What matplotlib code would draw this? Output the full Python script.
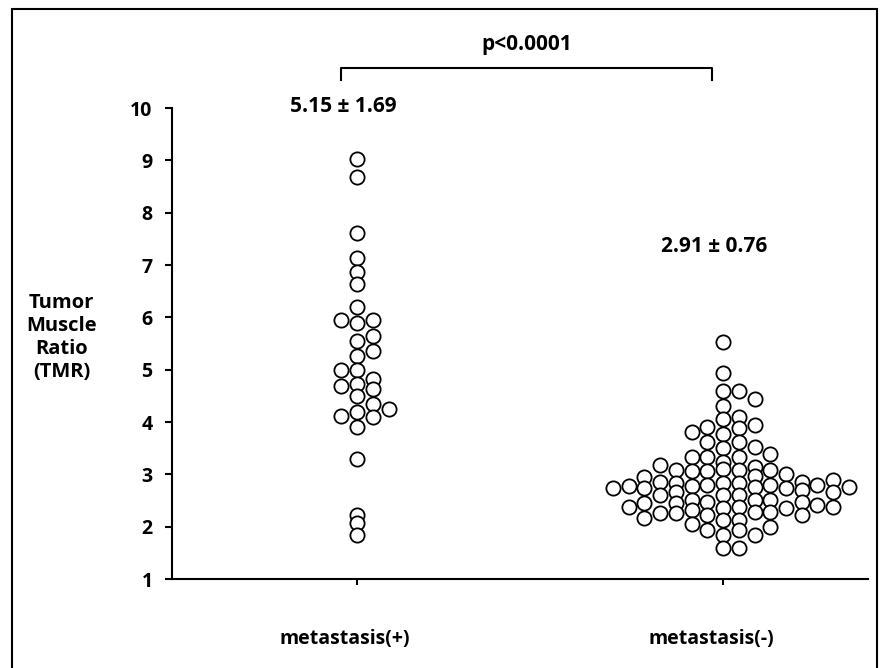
import matplotlib
matplotlib.use("Agg")
import matplotlib.pyplot as plt
from matplotlib.patches import Rectangle
from matplotlib.transforms import ScaledTranslation

plt.rcParams['font.family'] = ['Open Sans', 'DejaVu Sans']
plt.rcParams['font.weight'] = 'bold'

groups = ["metastasis(+)", "metastasis(-)"]
summary = ["5.15 \u00b1 1.69", "2.91 \u00b1 0.76"]
p_text = "p<0.0001"

# metastasis(+): TMR value and swarm column
pos_tmr = [9.02, 8.69, 7.62, 7.13, 6.86, 6.64, 6.20, 5.94, 5.89, 5.94,
           5.65, 5.55, 5.36, 5.27, 5.00, 5.00, 4.82, 4.69, 4.72, 4.64,
           4.50, 4.34, 4.25, 4.20, 4.11, 4.09, 3.91, 3.29, 2.23, 2.08, 1.84]
pos_col = [0, 0, 0, 0, 0, 0, 0, -1, 0, 1,
           1, 0, 1, 0, -1, 0, 1, -1, 0, 1,
           0, 1, 2, 0, -1, 1, 0, 0, 0, 0, 0]

# metastasis(-): values per swarm column
neg_by_col = {
    -7: [2.74],
    -6: [2.78, 2.38],
    -5: [2.94, 2.73, 2.45, 2.16],
    -4: [3.18, 2.86, 2.60, 2.27],
    -3: [3.08, 2.83, 2.67, 2.45, 2.27],
    -2: [3.80, 3.34, 3.06, 2.78, 2.51, 2.32, 2.05],
    -1: [3.91, 3.62, 3.34, 3.06, 2.80, 2.48, 2.22, 1.94],
    0: [5.52, 4.93, 4.59, 4.31, 4.05, 3.78, 3.51, 3.24, 3.11, 2.83,
        2.60, 2.35, 2.13, 1.84, 1.59],
    1: [4.59, 4.10, 3.88, 3.62, 3.34, 3.08, 2.83, 2.60, 2.38, 2.13, 1.94, 1.59],
    2: [4.44, 3.94, 3.53, 3.15, 2.96, 2.76, 2.51, 2.29, 1.84],
    3: [3.38, 3.08, 2.80, 2.51, 2.29, 1.99],
    4: [3.00, 2.73, 2.35],
    5: [2.86, 2.70, 2.48, 2.22],
    6: [2.80, 2.41],
    7: [2.89, 2.67, 2.38],
    8: [2.76],
}

step = 0.043  # horizontal spacing of swarm columns

fig = plt.figure(figsize=(8.83, 6.68), dpi=100)
ax = fig.add_axes([0.1948, 0.1332, 0.7882, 0.7051])

marker = dict(s=105, facecolors='white', edgecolors='black', linewidths=1.3,
              clip_on=False, zorder=3)

ax.scatter([0 + c * step for c in pos_col], pos_tmr, **marker)
nx, ny = [], []
for c, vals in neg_by_col.items():
    for v in vals:
        nx.append(1 + c * step)
        ny.append(v)
ax.scatter(nx, ny, **marker)

ax.set_xlim(-0.5055, 1.396)
ax.set_ylim(1, 10)
ax.set_yticks(range(1, 11))
ax.set_xticks([0, 1])
ax.set_xticklabels(groups, fontsize=14, fontweight='bold')
ax.tick_params(axis='y', direction='out', length=5, width=1.5, pad=9, labelsize=14)
ax.tick_params(axis='x', direction='out', length=4, width=1.5, pad=32)
for lab in ax.get_yticklabels():
    lab.set_fontweight('bold')
# the group labels sit a little left of their ticks
shift = ScaledTranslation(-12 / 100, 0, fig.dpi_scale_trans)
for lab in ax.get_xticklabels():
    lab.set_transform(lab.get_transform() + shift)

for s in ['top', 'right']:
    ax.spines[s].set_visible(False)
for s in ['left', 'bottom']:
    ax.spines[s].set_linewidth(1.5)

# bracket and annotations
ax.plot([-0.044, -0.044, 0.970, 0.970], [10.535, 10.76, 10.76, 10.535],
        color='black', lw=1.5, clip_on=False)
ax.text(0.464, 11.22, p_text, ha='center', va='center', fontsize=15, fontweight='bold')
ax.text(-0.038, 10.02, summary[0], ha='center', va='center', fontsize=15, fontweight='bold')
ax.text(0.975, 7.36, summary[1], ha='center', va='center', fontsize=15, fontweight='bold')

fig.text(0.070, 0.4955, "Tumor\nMuscle\nRatio\n(TMR)", ha='center', va='center',
         fontsize=14.5, fontweight='bold', linespacing=1.2)

fig.patches.append(Rectangle((0.0136, -0.05), 0.9796, 0.9865 + 0.05,
                             transform=fig.transFigure, fill=False,
                             edgecolor='black', lw=1.5))

fig.savefig("out.png", dpi=100)
